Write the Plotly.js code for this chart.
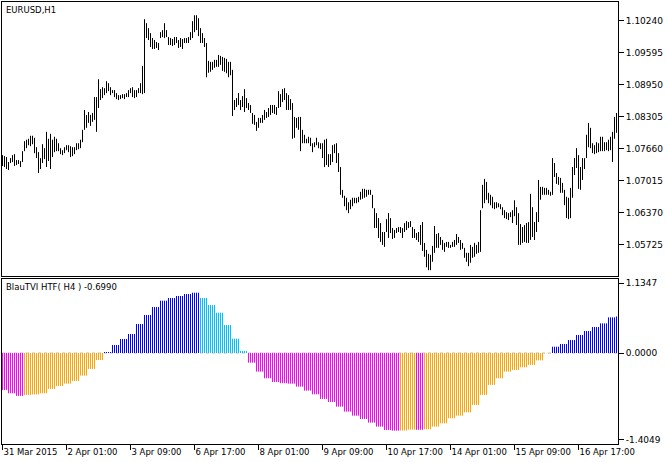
<!DOCTYPE html>
<html><head><meta charset="utf-8">
<script src="https://cdn.plot.ly/plotly-3.0.1.min.js"></script>
<style>html,body{margin:0;padding:0;background:#fff}#chart{width:667px;height:462px}</style>
</head><body><div id="chart"></div>
<script>
// EURUSD H1 bars, first bar 31 Mar 2015 17:00 (trading hours only)
const firstBarHour = 17;
const barHigh = [1.0753,
1.0751,1.0749,1.0739,1.0747,1.0753,1.0755,1.0743,1.0743,1.0741,1.0761,
1.0781,1.0784,1.0786,1.0792,1.0792,1.0788,1.0769,1.0759,1.0747,1.0775,
1.0767,1.0800,1.0786,1.0796,1.0784,1.0790,1.0786,1.0777,1.0767,1.0763,
1.0769,1.0773,1.0773,1.0771,1.0769,1.0769,1.0777,1.0777,1.0784,1.0804,
1.0844,1.0834,1.0840,1.0834,1.0838,1.0870,1.0870,1.0906,1.0886,1.0890,
1.0888,1.0902,1.0898,1.0890,1.0884,1.0884,1.0878,1.0874,1.0874,1.0876,
1.0876,1.0878,1.0884,1.0888,1.0890,1.0884,1.0884,1.0888,1.0898,1.0933,
1.1027,1.1019,1.1009,1.0999,1.0989,1.0985,1.0981,1.0979,1.1001,1.1005,
1.1019,1.1005,1.0991,1.0989,1.0987,1.0991,1.0991,1.0985,1.0989,1.0987,
1.0989,1.0989,1.0991,1.1001,1.1023,1.1035,1.1035,1.1029,1.1009,1.0999,
1.0989,1.0979,1.0943,1.0941,1.0941,1.0945,1.0945,1.0955,1.0953,1.0951,
1.0949,1.0947,1.0941,1.0941,1.0925,1.0864,1.0868,1.0878,1.0864,1.0872,
1.0886,1.0868,1.0858,1.0854,1.0838,1.0834,1.0820,1.0828,1.0828,1.0834,
1.0844,1.0840,1.0848,1.0854,1.0854,1.0854,1.0850,1.0882,1.0876,1.0886,
1.0888,1.0878,1.0874,1.0866,1.0858,1.0830,1.0828,1.0830,1.0830,1.0804,
1.0794,1.0786,1.0790,1.0788,1.0777,1.0779,1.0788,1.0779,1.0777,1.0777,
1.0784,1.0786,1.0755,1.0755,1.0773,1.0775,1.0777,1.0757,1.0729,1.0683,
1.0671,1.0667,1.0658,1.0663,1.0667,1.0667,1.0667,1.0669,1.0679,1.0685,
1.0685,1.0683,1.0683,1.0683,1.0673,1.0646,1.0636,1.0626,1.0616,1.0598,
1.0598,1.0624,1.0636,1.0626,1.0606,1.0602,1.0606,1.0608,1.0608,1.0606,
1.0616,1.0620,1.0618,1.0620,1.0608,1.0604,1.0596,1.0598,1.0612,1.0618,
1.0576,1.0562,1.0554,1.0552,1.0570,1.0610,1.0594,1.0596,1.0588,1.0582,
1.0576,1.0578,1.0578,1.0572,1.0578,1.0582,1.0594,1.0588,1.0582,1.0576,
1.0566,1.0556,1.0556,1.0572,1.0568,1.0576,1.0572,1.0578,1.0642,1.0693,
1.0705,1.0699,1.0677,1.0673,1.0669,1.0658,1.0658,1.0656,1.0654,1.0648,
1.0642,1.0638,1.0636,1.0638,1.0642,1.0662,1.0648,1.0636,1.0614,1.0608,
1.0612,1.0616,1.0618,1.0675,1.0648,1.0618,1.0638,1.0703,1.0689,1.0689,
1.0687,1.0687,1.0683,1.0679,1.0747,1.0737,1.0717,1.0709,1.0707,1.0697,
1.0683,1.0669,1.0667,1.0687,1.0729,1.0747,1.0767,1.0753,1.0729,1.0747,
1.0747,1.0794,1.0818,1.0808,1.0777,1.0773,1.0779,1.0777,1.0790,1.0790,
1.0779,1.0779,1.0784,1.0790,1.0800,1.0830,1.0838];
const barLow = [1.0731,
1.0729,1.0725,1.0723,1.0737,1.0739,1.0731,1.0733,1.0735,1.0729,1.0739,
1.0761,1.0767,1.0773,1.0771,1.0775,1.0757,1.0747,1.0717,1.0725,1.0737,
1.0745,1.0729,1.0741,1.0725,1.0749,1.0759,1.0761,1.0761,1.0755,1.0753,
1.0757,1.0763,1.0759,1.0749,1.0751,1.0755,1.0763,1.0765,1.0767,1.0779,
1.0804,1.0808,1.0818,1.0812,1.0820,1.0824,1.0800,1.0848,1.0864,1.0868,
1.0874,1.0878,1.0882,1.0874,1.0878,1.0870,1.0866,1.0864,1.0866,1.0868,
1.0866,1.0870,1.0870,1.0878,1.0870,1.0868,1.0870,1.0878,1.0878,1.0876,
1.0878,1.0989,1.0985,1.0971,1.0967,1.0967,1.0969,1.0965,1.0989,1.0991,
1.0989,1.0991,1.0975,1.0975,1.0973,1.0975,1.0979,1.0969,1.0971,1.0967,
1.0979,1.0979,1.0979,1.0985,1.0989,1.1001,1.1005,1.0993,1.0979,1.0979,
1.0971,1.0910,1.0919,1.0921,1.0925,1.0929,1.0931,1.0931,1.0935,1.0923,
1.0921,1.0918,1.0910,1.0914,1.0832,1.0844,1.0850,1.0854,1.0844,1.0850,
1.0840,1.0848,1.0844,1.0838,1.0816,1.0814,1.0802,1.0808,1.0818,1.0818,
1.0824,1.0828,1.0830,1.0834,1.0838,1.0836,1.0834,1.0848,1.0850,1.0860,
1.0864,1.0844,1.0844,1.0844,1.0786,1.0788,1.0808,1.0804,1.0761,1.0777,
1.0777,1.0777,1.0777,1.0771,1.0759,1.0769,1.0773,1.0767,1.0765,1.0747,
1.0729,1.0733,1.0729,1.0733,1.0739,1.0757,1.0737,1.0719,1.0673,1.0667,
1.0650,1.0642,1.0636,1.0644,1.0650,1.0656,1.0656,1.0658,1.0663,1.0665,
1.0667,1.0669,1.0673,1.0673,1.0646,1.0606,1.0606,1.0586,1.0578,1.0572,
1.0568,1.0598,1.0586,1.0596,1.0584,1.0586,1.0596,1.0598,1.0596,1.0586,
1.0598,1.0602,1.0606,1.0608,1.0586,1.0586,1.0582,1.0578,1.0572,1.0560,
1.0548,1.0527,1.0521,1.0521,1.0538,1.0556,1.0566,1.0566,1.0572,1.0562,
1.0558,1.0568,1.0566,1.0566,1.0568,1.0568,1.0572,1.0576,1.0562,1.0564,
1.0546,1.0538,1.0529,1.0536,1.0546,1.0548,1.0554,1.0556,1.0558,1.0646,
1.0656,1.0663,1.0656,1.0652,1.0646,1.0644,1.0646,1.0648,1.0644,1.0632,
1.0626,1.0624,1.0622,1.0628,1.0616,1.0630,1.0612,1.0572,1.0572,1.0576,
1.0578,1.0576,1.0576,1.0582,1.0588,1.0582,1.0598,1.0618,1.0663,1.0673,
1.0673,1.0673,1.0673,1.0671,1.0673,1.0709,1.0695,1.0693,1.0677,1.0677,
1.0652,1.0626,1.0624,1.0626,1.0667,1.0713,1.0727,1.0685,1.0683,1.0703,
1.0725,1.0747,1.0769,1.0767,1.0757,1.0755,1.0757,1.0759,1.0761,1.0761,
1.0761,1.0763,1.0761,1.0763,1.0739,1.0786,1.0798];
// BlauTVI values of the H4 timeframe, one per H4 bar
const h4Value = [
-0.600,-0.653,-0.695,-0.680,-0.672,-0.653,-0.583,-0.535,-0.497,-0.454,
-0.367,-0.259,-0.113,0.016,0.130,0.227,0.308,0.470,0.616,0.745,
0.848,0.891,0.924,0.956,0.977,0.891,0.778,0.653,0.454,0.232,
0.035,-0.157,-0.302,-0.410,-0.470,-0.490,-0.497,-0.545,-0.610,-0.670,
-0.745,-0.794,-0.870,-0.950,-1.016,-1.070,-1.129,-1.194,-1.248,-1.259,
-1.257,-1.242,-1.245,-1.237,-1.194,-1.140,-1.058,-1.016,-0.962,-0.843,
-0.680,-0.518,-0.410,-0.302,-0.275,-0.232,-0.194,-0.119,-0.005,0.102,
0.146,0.210,0.292,0.356,0.421,0.480,0.578,0.592];
const timeTickBars = [0,32,64,96,128,160,192,224,256,288];
const timeTickLabels = ["31 Mar 2015","2 Apr 01:00","3 Apr 09:00","6 Apr 17:00","8 Apr 01:00","9 Apr 09:00","10 Apr 17:00","14 Apr 01:00","15 Apr 09:00","16 Apr 17:00"];
const priceTicks = [1.10240,1.09595,1.08950,1.08305,1.07660,1.07015,1.06370,1.05725];
const priceTickLabels = ["1.10240","1.09595","1.08950","1.08305","1.07660","1.07015","1.06370","1.05725"];
const indTicks = [1.1347,0,-1.4049];
const indTickLabels = ["1.1347","0.0000","-1.4049"];
const symbolTitle = "EURUSD,H1";
const indicatorTitle = "BlauTVI HTF( H4 ) -0.6990";

const n = barHigh.length;
const bx = [], by = [];
for (let i = 0; i < n; i++) { bx.push(i, i, null); by.push(barLow[i], barHigh[i], null); }

const COLORS = {up:'#0000FF', upFall:'#00BFFF', dn:'#FF00FF', dnRise:'#FFA500'};
function colorOf(k) {
  const v = h4Value[k], p = k > 0 ? h4Value[k-1] : 0;
  if (v >= 0) return v > p ? COLORS.up : COLORS.upFall;
  return v < p ? COLORS.dn : COLORS.dnRise;
}
const groups = {};
for (let i = 0; i < n; i++) {
  const k = Math.floor((firstBarHour + i) / 4) - Math.floor(firstBarHour / 4);
  const c = colorOf(k);
  if (!groups[c]) groups[c] = {x: [], y: []};
  groups[c].x.push(i, i, null);
  groups[c].y.push(0, h4Value[k], null);
}

const traces = [{
  type: 'scatter', mode: 'lines', x: bx, y: by, xaxis: 'x', yaxis: 'y',
  line: {color: '#000000', width: 1}, hoverinfo: 'skip'
}];
Object.keys(groups).forEach(c => traces.push({
  type: 'scatter', mode: 'lines', x: groups[c].x, y: groups[c].y, xaxis: 'x2', yaxis: 'y2',
  line: {color: c, width: 1}, hoverinfo: 'skip'
}));

const W = 667, H = 462, ML = 2, MR = 49, MT = 2, MB = 18;
const plotH = H - MT - MB;
const py = Y => (H - MB - Y) / plotH;
const xr = [-0.25, 307.75];
const axLine = {showline: true, mirror: true, linecolor: '#000', linewidth: 1, showgrid: false, zeroline: false};

const layout = {
  width: W, height: H,
  margin: {l: ML, r: MR, t: MT, b: MB, pad: 0},
  paper_bgcolor: '#ffffff', plot_bgcolor: '#ffffff', showlegend: false,
  font: {family: 'DejaVu Sans, sans-serif', size: 9, color: '#000'},
  xaxis: Object.assign({domain: [0, 1], anchor: 'y', range: xr, showticklabels: false, ticks: ''}, axLine),
  xaxis2: Object.assign({domain: [0, 1], anchor: 'y2', range: xr, tickmode: 'array',
    tickvals: timeTickBars, ticktext: timeTickLabels, ticks: 'outside', ticklen: 5, tickcolor: '#000',
    tickangle: 0, ticklabelposition: 'outside right', tickfont: {size: 8.5}}, axLine),
  yaxis: Object.assign({domain: [py(276), 1], anchor: 'x', side: 'right', range: [1.05093, 1.10617],
    tickmode: 'array', tickvals: priceTicks, ticktext: priceTickLabels, ticks: 'outside', ticklen: 5,
    tickcolor: '#000', tickfont: {size: 9}}, axLine),
  yaxis2: Object.assign({domain: [0, py(278.5)], anchor: 'x2', side: 'right', range: [-1.475, 1.2077],
    tickmode: 'array', tickvals: indTicks, ticktext: indTickLabels, ticks: 'outside', ticklen: 5,
    tickcolor: '#000', tickfont: {size: 9}}, axLine),
  shapes: [{type: 'line', xref: 'x2 domain', yref: 'y2', x0: 0, x1: 1, y0: 0, y1: 0, layer: 'below',
    line: {color: '#C0C0C0', width: 1, dash: '3px,3px'}}],
  annotations: [
    {text: symbolTitle, xref: 'paper', yref: 'paper', x: 2 / 616, y: py(9.5), xanchor: 'left', yanchor: 'middle',
     showarrow: false, font: {size: 8.5, color: '#000'}},
    {text: indicatorTitle, xref: 'paper', yref: 'paper', x: 2 / 616, y: py(287.5), xanchor: 'left', yanchor: 'middle',
     showarrow: false, font: {size: 8.5, color: '#000'}}
  ]
};

Plotly.newPlot('chart', traces, layout, {staticPlot: true, displayModeBar: false});
</script>
</body></html>
